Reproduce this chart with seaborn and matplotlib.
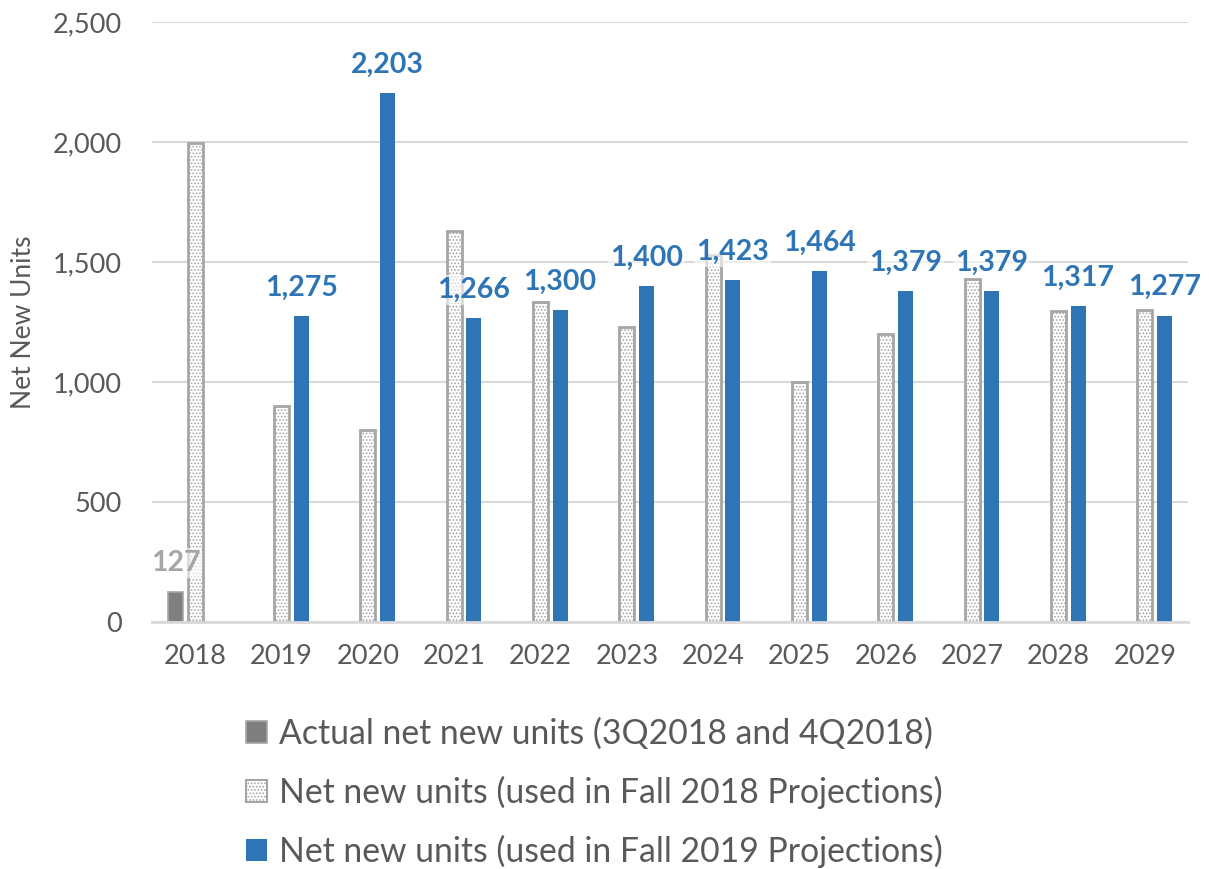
import numpy as np
import pandas as pd
import matplotlib
matplotlib.use("Agg")
import matplotlib.pyplot as plt
from matplotlib.patches import Patch
import seaborn as sns

# ---- data ----
years = ["2018", "2019", "2020", "2021", "2022", "2023", "2024", "2025", "2026", "2027", "2028", "2029"]
actual = [127, np.nan, np.nan, np.nan, np.nan, np.nan, np.nan, np.nan, np.nan, np.nan, np.nan, np.nan]
fall2018 = [1995, 900, 800, 1630, 1335, 1230, 1530, 1000, 1200, 1430, 1295, 1300]
fall2019 = [np.nan, 1275, 2203, 1266, 1300, 1400, 1423, 1464, 1379, 1379, 1317, 1277]
series_names = ["Actual net new units (3Q2018 and 4Q2018)",
                "Net new units (used in Fall 2018 Projections)",
                "Net new units (used in Fall 2019 Projections)"]
y_ticks = [0, 500, 1000, 1500, 2000, 2500]
y_label = "Net New Units"

# ---- styles ----
sns.set_theme(style="white")
plt.rcParams["font.family"] = ["Lato", "DejaVu Sans"]
plt.rcParams["hatch.linewidth"] = 0.8
plt.rcParams["hatch.color"] = "#A6A6A6"

C_ACT = "#7F7F7F"
C_F18 = "#FFFFFF"
C_F19 = "#2E75B6"
C_TXT = "#595959"
C_GRID = "#D9D9D9"

df = pd.DataFrame({
    "year": years * 3,
    "series": [series_names[0]] * len(years) + [series_names[1]] * len(years) + [series_names[2]] * len(years),
    "value": actual + fall2018 + fall2019,
})

fig = plt.figure(figsize=(12.09, 8.69), dpi=100)
ax = fig.add_axes([152 / 1209, 1 - 622 / 869, (1188 - 152) / 1209, 600 / 869])

sns.barplot(data=df, x="year", y="value", hue="series", hue_order=series_names,
            order=years, palette=[C_ACT, C_F18, C_F19], width=0.68, gap=0.23,
            dodge=True, legend=False, ax=ax, saturation=1)

conts = ax.containers
# style each series
for p in conts[0]:
    p.set_edgecolor("#A6A6A6"); p.set_linewidth(1.2)
for p in conts[1]:
    p.set_facecolor("white"); p.set_edgecolor("#A6A6A6"); p.set_linewidth(2.0); p.set_hatch(".....")
for p in conts[2]:
    p.set_edgecolor(C_F19); p.set_linewidth(0)

def fmt_labels(c):
    return ["" if (v is None or np.isnan(v)) else f"{v:,.0f}" for v in c.datavalues]

bbox = dict(facecolor="white", edgecolor="none", alpha=0.6, pad=1.5)
ax.bar_label(conts[0], labels=fmt_labels(conts[0]), padding=11, color="#A6A6A6",
             fontsize=20.5, fontweight="bold", bbox=bbox)
ax.bar_label(conts[2], labels=fmt_labels(conts[2]), padding=11, color=C_F19,
             fontsize=20.5, fontweight="bold", bbox=bbox)

# axes styling
ax.set_ylim(0, 2500)
ax.set_xlim(-0.5, len(years) - 0.5)
ax.set_yticks(y_ticks)
ax.set_yticklabels([f"{v:,}" for v in y_ticks])
ax.yaxis.grid(True, color=C_GRID, linewidth=1.5)
ax.set_axisbelow(True)
for s in ["left", "right", "top"]:
    ax.spines[s].set_visible(False)
ax.spines["bottom"].set_color(C_GRID)
ax.spines["bottom"].set_linewidth(2)
ax.tick_params(axis="y", length=0, pad=22, labelsize=19.5, labelcolor=C_TXT)
ax.tick_params(axis="x", which="major", length=0, pad=16, labelsize=19.5, labelcolor=C_TXT)
ax.set_xticks(np.arange(-0.5, len(years), 1.0), minor=True)
ax.tick_params(axis="x", which="minor", length=7, width=1.5, color=C_GRID, direction="out")
ax.set_xlabel("")
ax.set_ylabel(y_label, fontsize=19, color=C_TXT, labelpad=12)

handles = [
    Patch(facecolor=C_ACT, edgecolor="#A6A6A6", linewidth=1.2),
    Patch(facecolor="white", edgecolor="#A6A6A6", linewidth=1.5, hatch="....."),
    Patch(facecolor=C_F19, edgecolor=C_F19, linewidth=0),
]
leg = fig.legend(handles=handles, labels=series_names, loc="upper left",
                 bbox_to_anchor=(233 / 1209, 1 - 704 / 869), frameon=False,
                 fontsize=24.3, handlelength=0.62, handleheight=0.62,
                 handletextpad=0.35, labelspacing=0.77, borderaxespad=0)
for t in leg.get_texts():
    t.set_color(C_TXT)

fig.savefig("out.png", dpi=100)
